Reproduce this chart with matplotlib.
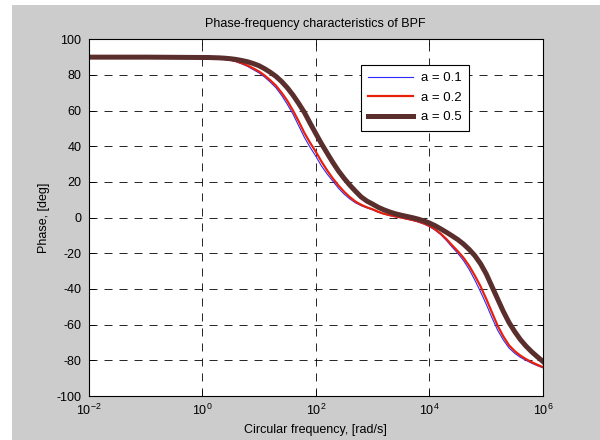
import matplotlib
matplotlib.use("Agg")
import matplotlib.pyplot as plt
from matplotlib.patches import Rectangle
import numpy as np

# log10 of circular frequency [rad/s]
log_w = [-2.0, -1.5, -1.0, -0.5,
         0.0, 0.1, 0.2, 0.3, 0.4, 0.5, 0.6, 0.7, 0.8, 0.9,
         1.0, 1.1, 1.2, 1.3, 1.4, 1.5, 1.6, 1.7, 1.8, 1.9,
         2.0, 2.1, 2.2, 2.3, 2.4, 2.5, 2.6, 2.7, 2.8, 2.9,
         3.0, 3.1, 3.2, 3.3, 3.4, 3.5, 3.6, 3.7, 3.8, 3.9,
         4.0, 4.1, 4.2, 4.3, 4.4, 4.5, 4.6, 4.7, 4.8, 4.9,
         5.0, 5.1, 5.2, 5.3, 5.4, 5.5, 5.6, 5.7, 5.8, 5.9, 6.0]
phase_a01 = [90.0, 90.0, 90.0, 89.9,
             89.7, 89.6, 89.4, 89.2, 88.8, 88.3, 87.4, 86.2, 84.8, 83.0,
             81.2, 78.8, 76.0, 72.8, 68.5, 63.5, 58.0, 51.5, 45.0, 39.5,
             34.5, 29.0, 24.5, 20.5, 16.5, 13.2, 10.5, 8.3, 6.7, 5.5,
             4.4, 3.0, 2.0, 1.2, 0.5, -0.1, -0.8, -1.5, -2.4, -3.5,
             -5.0, -7.0, -9.5, -12.8, -16.5, -20.0, -24.0, -29.0, -35.0, -41.5,
             -48.5, -56.0, -63.0, -68.5, -73.0, -76.0, -78.3, -80.0, -81.6, -83.0, -84.2]
phase_a02 = [90.0, 90.0, 90.0, 89.9,
             89.7, 89.6, 89.5, 89.3, 88.9, 88.5, 87.7, 86.6, 85.3, 83.7,
             82.0, 79.7, 77.0, 74.0, 70.0, 65.5, 60.0, 54.0, 47.5, 42.0,
             37.0, 31.5, 26.5, 22.0, 18.0, 14.5, 11.5, 9.0, 7.2, 5.8,
             4.7, 3.3, 2.2, 1.4, 0.7, 0.1, -0.6, -1.3, -2.1, -3.2,
             -4.6, -6.5, -9.0, -12.0, -15.5, -18.8, -22.5, -27.0, -32.5, -38.5,
             -45.5, -53.0, -60.5, -66.5, -71.5, -74.8, -77.3, -79.3, -81.0, -82.5, -83.8]
phase_a05 = [90.0, 90.0, 90.0, 89.9,
             89.8, 89.8, 89.7, 89.6, 89.4, 89.1, 88.7, 88.1, 87.4, 86.4,
             85.2, 83.5, 81.5, 79.2, 76.3, 72.8, 68.7, 64.0, 59.0, 53.0,
             47.2, 41.5, 36.2, 31.0, 26.2, 22.0, 18.2, 14.8, 11.6, 9.3,
             7.6, 5.8, 4.4, 3.2, 2.2, 1.4, 0.7, 0.0, -0.8, -1.8,
             -3.0, -4.5, -6.3, -8.2, -10.2, -12.3, -14.8, -17.8, -21.3, -25.8,
             -31.5, -38.5, -45.5, -52.5, -58.7, -63.8, -68.3, -72.0, -75.2, -78.0, -80.7]
labels = ["a = 0.1", "a = 0.2", "a = 0.5"]
colors = ["#2a2aff", "#e8200a", "#5a2e2c"]
widths = [0.8, 1.6, 3.6]

plt.rcParams['font.family'] = ['Liberation Sans', 'DejaVu Sans']
plt.rcParams['font.size'] = 9
plt.rcParams['lines.scale_dashes'] = False
plt.rcParams['axes.unicode_minus'] = False

fig = plt.figure(figsize=(6, 4.4), dpi=100, facecolor='white')
fig.patches.append(Rectangle((12/600, 0), 1 - 12/600, 1 - 5/440,
                             transform=fig.transFigure, facecolor='#cccccc',
                             edgecolor='none', zorder=-10))
ax = fig.add_axes([88.5/600, 1 - 396/440, (543 - 88.5)/600, (396 - 39.3)/440])
ax.set_facecolor('white')

w = np.power(10.0, log_w)
for ph, lab, c, lw in zip([phase_a01, phase_a02, phase_a05], labels, colors, widths):
    ax.plot(w, ph, color=c, lw=lw, label=lab, solid_joinstyle='round')

ax.set_xscale('log')
ax.set_xlim(1e-2, 1e6)
ax.set_ylim(-100, 100)
ax.set_xticks([1e-2, 1e0, 1e2, 1e4, 1e6])
ax.xaxis.set_minor_locator(matplotlib.ticker.NullLocator())
ax.set_yticks(np.arange(-100, 101, 20))
ax.grid(True, color='black', linestyle=(0, (5.8, 5.0)), linewidth=0.6)
ax.tick_params(direction='in', top=True, right=True, length=4, width=0.6,
               labelsize=9, colors='black', pad=5)
for s in ax.spines.values():
    s.set_linewidth(0.8)

ax.set_title("Phase-frequency characteristics of BPF", fontsize=9, pad=9)
ax.set_xlabel("Circular frequency, [rad/s]", fontsize=9, labelpad=4)
ax.set_ylabel("Phase, [deg]", fontsize=9, labelpad=5)

leg = ax.legend(loc='upper left', bbox_to_anchor=(0.6, 0.928), borderaxespad=0,
                fancybox=False, edgecolor='black', framealpha=1, fontsize=9.5,
                handlelength=3.4, handletextpad=0.6, labelspacing=0.55,
                borderpad=0.55)
leg.get_frame().set_linewidth(0.8)

fig.savefig("out.png", dpi=100, facecolor=fig.get_facecolor())
